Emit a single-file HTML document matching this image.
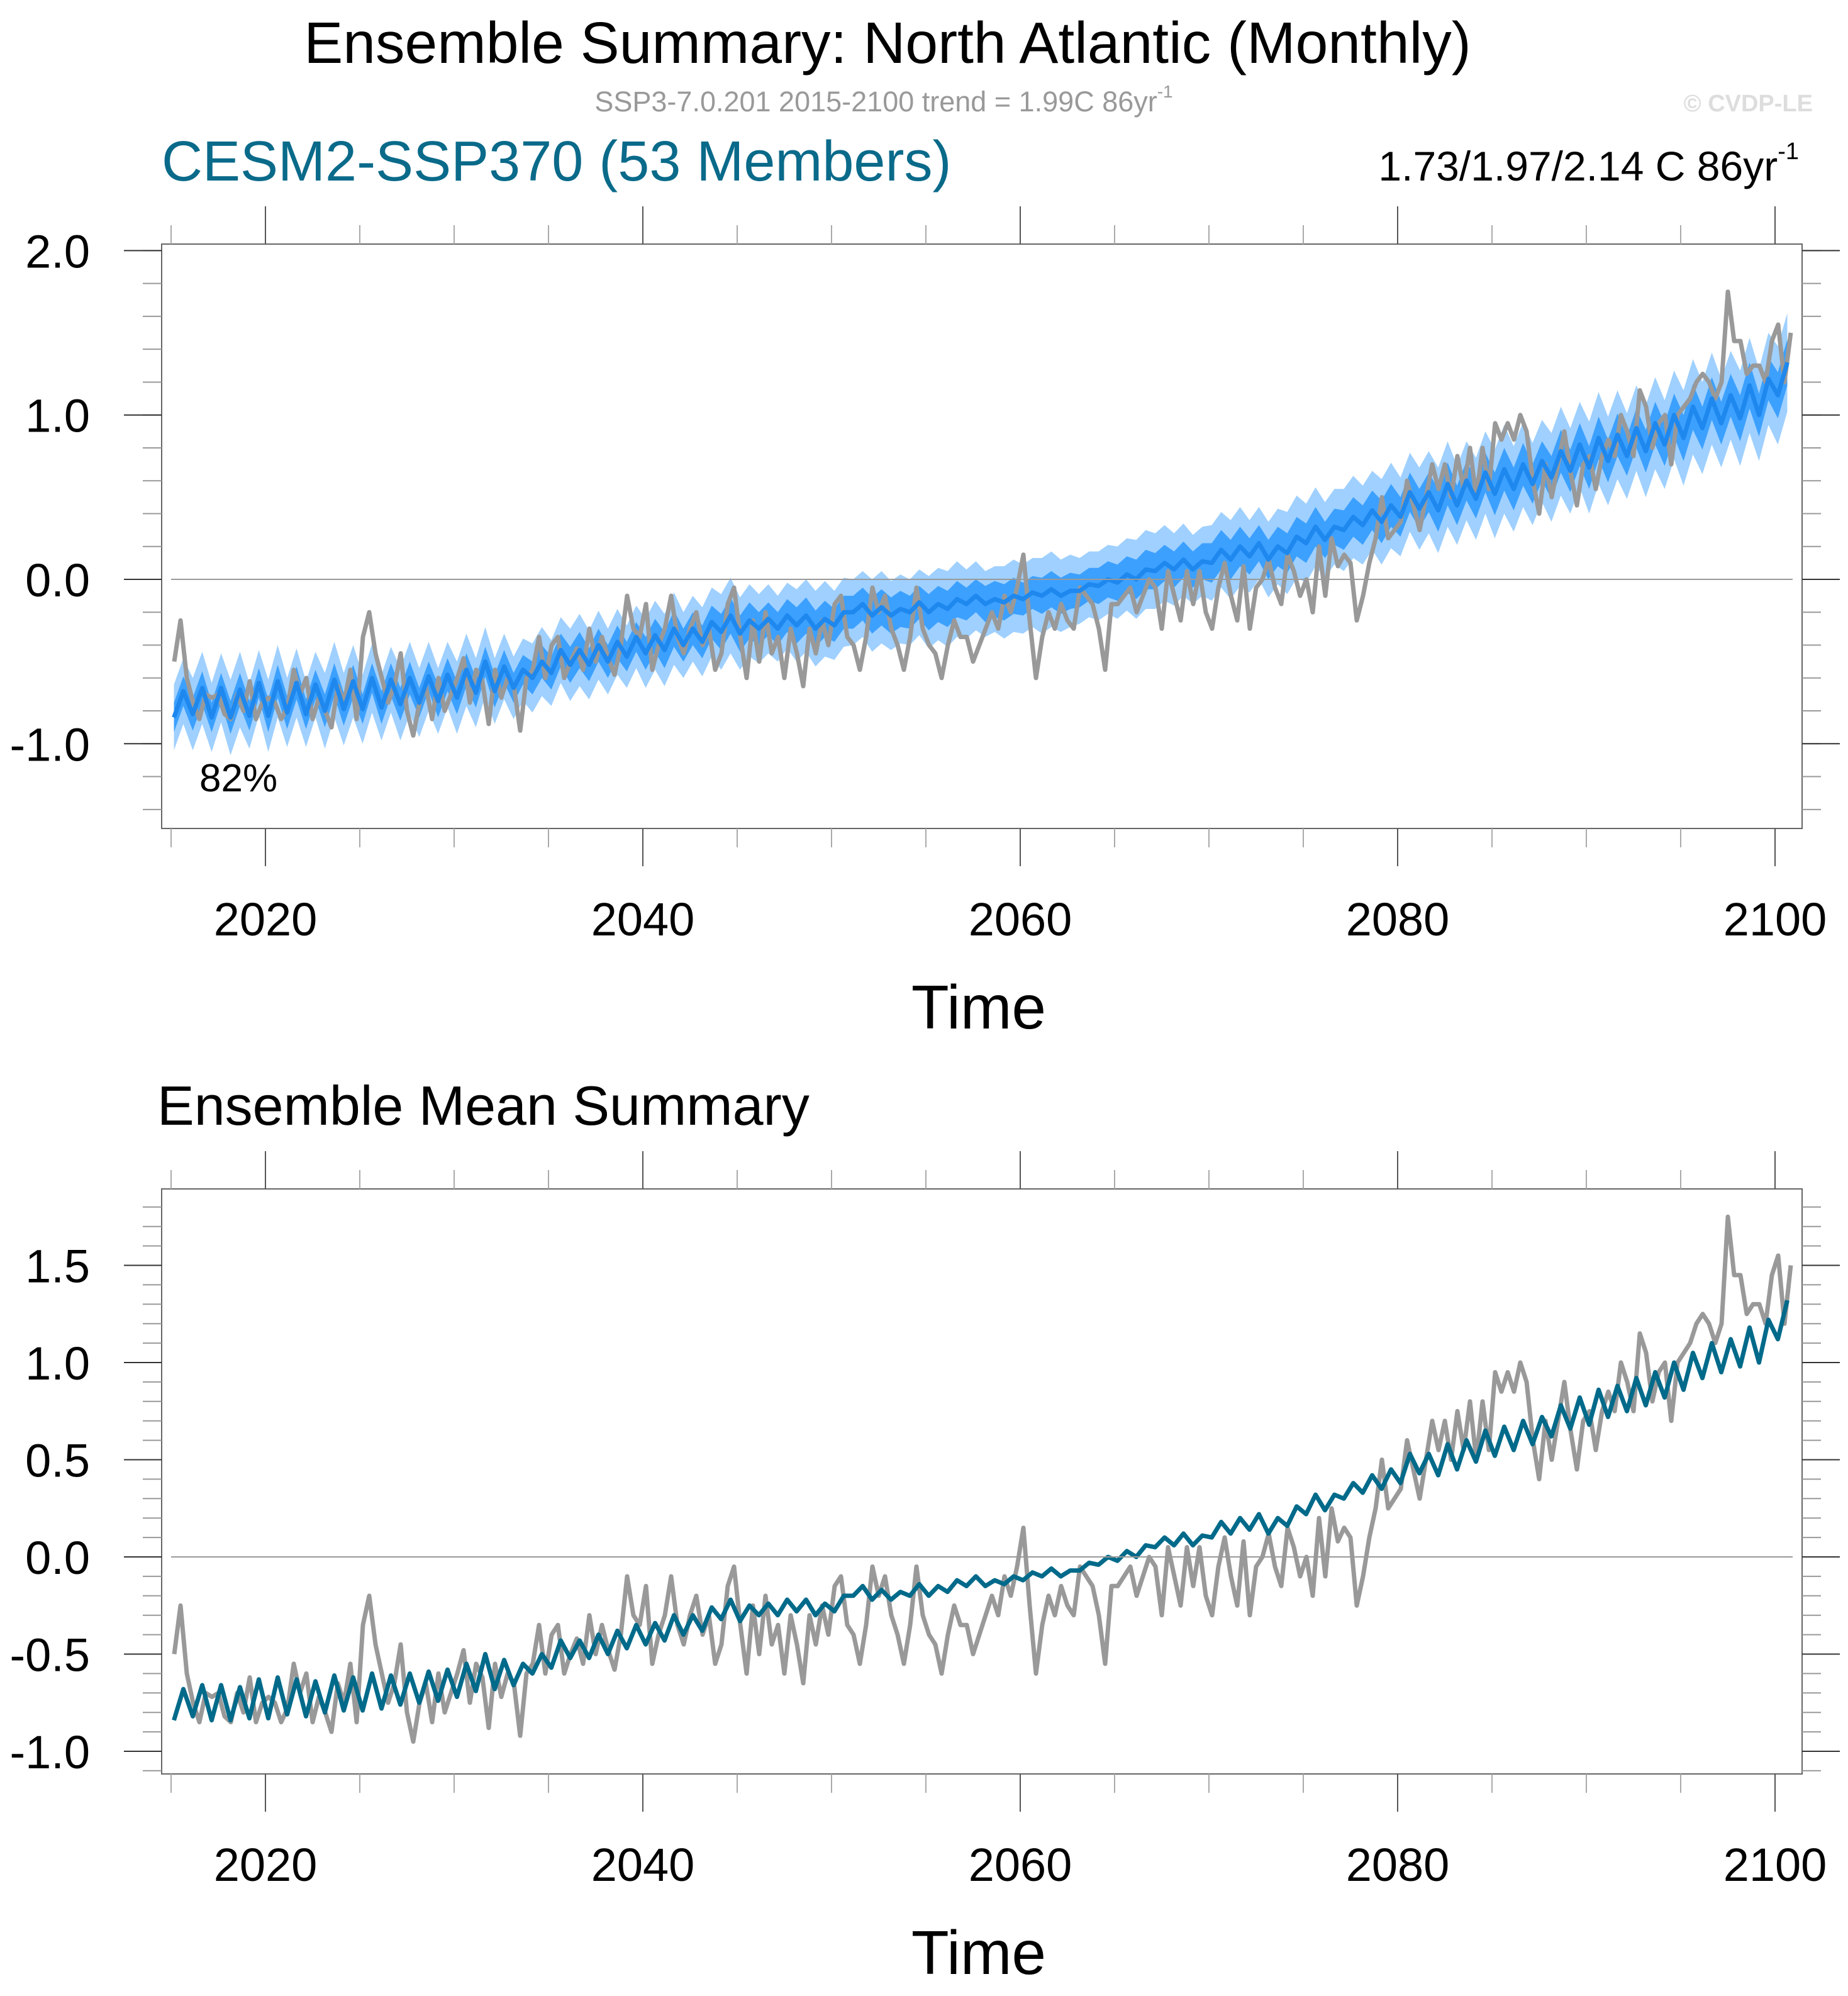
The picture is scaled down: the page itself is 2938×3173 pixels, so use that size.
<!DOCTYPE html>
<html><head><meta charset="utf-8"><style>
html,body{margin:0;padding:0;background:#fff;}
svg{display:block;font-family:"Liberation Sans",Arial,sans-serif;}
</style></head><body>
<svg id="chart" width="2938" height="3173" viewBox="0 0 2938 3173" xmlns="http://www.w3.org/2000/svg">
<rect width="2938" height="3173" fill="#fff"/>
<text x="1411" y="100" font-size="93" text-anchor="middle" fill="#000">Ensemble Summary: North Atlantic (Monthly)</text>
<text x="1405" y="177" font-size="45" text-anchor="middle" fill="#999">SSP3-7.0.201 2015-2100 trend = 1.99C 86yr<tspan font-size="28" dy="-22">-1</tspan></text>
<text x="2882" y="177" font-size="38" font-weight="bold" text-anchor="end" fill="#ddd">© CVDP-LE</text>
<text x="257" y="287" font-size="90" fill="#0a6a8a">CESM2-SSP370 (53 Members)</text>
<text x="2860" y="287" font-size="66" text-anchor="end" fill="#000">1.73/1.97/2.14 C 86yr<tspan font-size="38" dy="-34">-1</tspan></text>
<text x="250" y="1788" font-size="88" fill="#000">Ensemble Mean Summary</text>
<g id="top"></g>
<g id="bot"></g>
</svg>
<script>
const years = [];
for (let y = 2015; y <= 2100; y++) years.push(y);
// ensemble mean: [high, low] per year
const meanHigh = [-0.68,-0.66,-0.66,-0.67,-0.63,-0.62,-0.63,-0.64,-0.61,-0.62,-0.60,-0.61,-0.60,-0.59,-0.58,-0.55,-0.50,-0.53,-0.55,-0.50,-0.43,-0.43,-0.40,-0.38,-0.35,-0.34,-0.30,-0.30,-0.26,-0.22,-0.25,-0.24,-0.22,-0.22,-0.24,-0.20,-0.15,-0.17,-0.18,-0.14,-0.15,-0.12,-0.10,-0.12,-0.10,-0.08,-0.06,-0.07,-0.03,0.00,0.03,0.06,0.10,0.12,0.11,0.18,0.20,0.22,0.20,0.26,0.32,0.32,0.38,0.42,0.45,0.53,0.53,0.58,0.60,0.65,0.67,0.70,0.72,0.78,0.82,0.86,0.88,0.92,0.95,1.00,1.05,1.10,1.12,1.18,1.22,1.32];
const meanLow = [-0.84,-0.82,-0.84,-0.84,-0.83,-0.83,-0.81,-0.82,-0.80,-0.79,-0.79,-0.78,-0.76,-0.75,-0.74,-0.72,-0.69,-0.68,-0.66,-0.60,-0.57,-0.52,-0.52,-0.50,-0.47,-0.45,-0.43,-0.40,-0.38,-0.32,-0.33,-0.30,-0.30,-0.28,-0.30,-0.28,-0.20,-0.22,-0.22,-0.20,-0.20,-0.18,-0.15,-0.15,-0.14,-0.12,-0.10,-0.10,-0.07,-0.04,-0.02,0.00,0.05,0.06,0.06,0.10,0.12,0.14,0.12,0.16,0.22,0.24,0.30,0.33,0.35,0.38,0.43,0.42,0.45,0.49,0.52,0.55,0.58,0.62,0.66,0.68,0.72,0.75,0.78,0.82,0.86,0.92,0.95,0.98,1.00,1.12];
// single member (gray): 3 values per year
const memberVals = [
-0.5,-0.25,-0.6, -0.75,-0.85,-0.7, -0.72,-0.7,-0.82, -0.85,-0.7,-0.8, -0.62,-0.85,-0.75,
-0.72,-0.75,-0.85, -0.78,-0.55,-0.7, -0.6,-0.85,-0.72, -0.8,-0.9,-0.65, -0.75,-0.55,-0.85,
-0.35,-0.2,-0.45, -0.6,-0.75,-0.65, -0.45,-0.8,-0.95, -0.75,-0.65,-0.85, -0.6,-0.8,-0.7,
-0.6,-0.48,-0.75, -0.55,-0.62,-0.88, -0.55,-0.72,-0.6, -0.65,-0.92,-0.6, -0.55,-0.35,-0.6,
-0.4,-0.35,-0.6, -0.5,-0.42,-0.55, -0.3,-0.5,-0.35, -0.48,-0.58,-0.4, -0.1,-0.3,-0.35,
-0.15,-0.55,-0.4, -0.3,-0.1,-0.35, -0.45,-0.3,-0.2, -0.4,-0.3,-0.55, -0.45,-0.15,-0.05,
-0.35,-0.6,-0.25, -0.5,-0.2,-0.45, -0.35,-0.6,-0.3, -0.45,-0.65,-0.3, -0.45,-0.25,-0.4,
-0.15,-0.1,-0.35, -0.4,-0.55,-0.35, -0.05,-0.2,-0.1, -0.3,-0.4,-0.55, -0.35,-0.05,-0.3,
-0.4,-0.45,-0.6, -0.4,-0.25,-0.35, -0.35,-0.5,-0.4, -0.3,-0.2,-0.3, -0.1,-0.2,-0.05,
0.15,-0.25,-0.6, -0.35,-0.2,-0.3, -0.15,-0.25,-0.3, -0.05,-0.1,-0.15, -0.3,-0.55,-0.15,
-0.15,-0.1,-0.05, -0.2,-0.1,0.0, -0.05,-0.3,0.05, -0.1,-0.25,0.05, -0.15,0.05,-0.2,
-0.3,-0.05,0.1, -0.1,-0.25,0.08, -0.3,-0.05,0.0, 0.12,-0.05,-0.15, 0.15,0.05,-0.1,
0.0,-0.2,0.2, -0.1,0.25,0.08, 0.15,0.1,-0.25, -0.1,0.1,0.25, 0.5,0.25,0.3,
0.35,0.6,0.45, 0.3,0.5,0.7, 0.55,0.7,0.5, 0.75,0.55,0.8, 0.5,0.8,0.55,
0.95,0.85,0.95, 0.85,1.0,0.9, 0.6,0.4,0.7, 0.5,0.7,0.9, 0.65,0.45,0.7,
0.75,0.55,0.75, 0.85,0.75,1.0, 0.9,0.75,1.15, 1.05,0.8,0.95, 1.0,0.7,1.0,
1.05,1.1,1.2, 1.25,1.2,1.1, 1.2,1.75,1.45, 1.45,1.25,1.3, 1.3,1.2,1.45,
1.55,1.2,1.5];
// ensemble spread half-widths per year
const lightSpread = [0.20,0.22,0.21,0.23,0.20,0.22,0.21,0.20,0.23,0.22,0.21,0.20,0.22,0.21,0.20,0.22,0.21,0.20,0.19,0.21,0.20,0.22,0.21,0.20,0.19,0.21,0.22,0.20,0.21,0.23,0.22,0.21,0.20,0.22,0.23,0.21,0.20,0.22,0.21,0.20,0.22,0.23,0.21,0.20,0.22,0.21,0.23,0.22,0.20,0.21,0.22,0.24,0.23,0.22,0.21,0.23,0.24,0.22,0.23,0.25,0.24,0.23,0.25,0.24,0.26,0.24,0.25,0.26,0.24,0.25,0.27,0.26,0.25,0.27,0.26,0.28,0.27,0.26,0.28,0.27,0.29,0.28,0.27,0.29,0.28,0.30];
const darkSpread = [0.09,0.10,0.09,0.10,0.09,0.10,0.10,0.09,0.10,0.10,0.09,0.10,0.10,0.09,0.10,0.10,0.09,0.10,0.09,0.10,0.10,0.11,0.10,0.10,0.09,0.10,0.11,0.10,0.10,0.11,0.11,0.10,0.10,0.11,0.11,0.10,0.10,0.11,0.11,0.10,0.11,0.11,0.10,0.11,0.11,0.10,0.11,0.11,0.10,0.11,0.11,0.12,0.11,0.11,0.11,0.12,0.12,0.11,0.12,0.12,0.12,0.11,0.12,0.12,0.13,0.12,0.12,0.13,0.12,0.12,0.13,0.13,0.12,0.13,0.13,0.13,0.13,0.12,0.13,0.13,0.14,0.13,0.13,0.14,0.13,0.14];
const xTickLabels = ["2020","2040","2060","2080","2100"];
const topYLabels = ["2.0","1.0","0.0","-1.0"];
const botYLabels = ["1.5","1.0","0.5","0.0","-0.5","-1.0"];

const NS = "http://www.w3.org/2000/svg";
function mk(parent, tag, attrs) { const e = document.createElementNS(NS, tag); for (const k in attrs) e.setAttribute(k, attrs[k]); parent.appendChild(e); return e; }
const X0 = 257, X1 = 2865;
function xScale(t) { return 272 + (t - 2015) * 30; }

function meanPoints() { const p = []; years.forEach((y, i) => { p.push([y + 0.15, meanLow[i], i]); p.push([y + 0.65, meanHigh[i], i]); }); return p; }
function memberPoints() { const p = []; memberVals.forEach((v, k) => { p.push([2015 + Math.floor(k / 3) + (k % 3 + 0.5) / 3, v]); }); return p; }

function drawAxes(g, top, bottom, yScale, yMin, yMax, minorStep, majorVals, majorLabels, name) {
  const fr = mk(g, 'rect', {x: X0, y: top, width: X1 - X0, height: bottom - top, fill: 'none', stroke: '#666', 'stroke-width': 2});
  
  
  const nMin = Math.round((yMax - yMin) / minorStep);
  for (let k = 0; k <= nMin; k++) {
    const v = yMin + k * minorStep; const y = yScale(v);
    if (y < top - 1 || y > bottom + 1) continue;
    mk(g, 'line', {x1: X0 - 30, x2: X0, y1: y, y2: y, stroke: '#999', 'stroke-width': 2});
    mk(g, 'line', {x1: X1, x2: X1 + 30, y1: y, y2: y, stroke: '#999', 'stroke-width': 2});
  }
  majorVals.forEach((v, i) => {
    const y = yScale(v);
    mk(g, 'line', {x1: X0 - 60, x2: X0, y1: y, y2: y, stroke: '#333', 'stroke-width': 2});
    mk(g, 'line', {x1: X1, x2: X1 + 60, y1: y, y2: y, stroke: '#333', 'stroke-width': 2});
    const t = mk(g, 'text', {x: 143, y: y + 27, 'font-size': 74, 'text-anchor': 'end', fill: '#000'});
    t.textContent = majorLabels[i];
    
    
  });
  for (let yr = 2015; yr <= 2100; yr += 5) {
    const x = xScale(yr); const major = (yr % 20 === 0);
    const L = major ? 60 : 30; const c = major ? '#555' : '#aaa';
    mk(g, 'line', {x1: x, x2: x, y1: top - L, y2: top, stroke: c, 'stroke-width': 2});
    mk(g, 'line', {x1: x, x2: x, y1: bottom, y2: bottom + L, stroke: c, 'stroke-width': 2});
  }
  xTickLabels.forEach(lbl => {
    const t = mk(g, 'text', {x: xScale(+lbl), y: bottom + 170, 'font-size': 74, 'text-anchor': 'middle', fill: '#000'});
    t.textContent = lbl;
    
    
  });
  const tt = mk(g, 'text', {x: 1556, y: bottom + 318, 'font-size': 98, 'text-anchor': 'middle', fill: '#000'});
  tt.textContent = 'Time';
  
  
  const z = mk(g, 'line', {x1: 272, x2: 2850, y1: yScale(0), y2: yScale(0), stroke: '#999', 'stroke-width': 2});
  
  
}
function pathOf(pts, yScale) { return pts.map((p, i) => (i ? 'L' : 'M') + xScale(p[0]).toFixed(1) + ',' + yScale(p[1]).toFixed(1)).join(''); }

(function () {
  const g = document.getElementById('top');
  const yS = v => 921 - v * 261.3;
  const mp = meanPoints();
  const bandPath = (spread) => {
    const up = mp.map(p => [p[0], p[1] + spread[p[2]]]);
    const lo = mp.map(p => [p[0], p[1] - spread[p[2]]]).reverse();
    return pathOf(up, yS) + pathOf(lo, yS).replace('M', 'L') + 'Z';
  };
  const lb = mk(g, 'path', {d: bandPath(lightSpread), fill: '#9fd0ff', stroke: 'none'});
  
  
  const db = mk(g, 'path', {d: bandPath(darkSpread), fill: '#3ca0ff', stroke: 'none'});
  
  
  const gl = mk(g, 'path', {d: pathOf(memberPoints(), yS), fill: 'none', stroke: '#999', 'stroke-width': 7, 'stroke-linejoin': 'round'});
  
  
  const ml = mk(g, 'path', {d: pathOf(mp, yS), fill: 'none', stroke: '#1e88ee', 'stroke-width': 7, 'stroke-linejoin': 'round'});
  
  
  drawAxes(g, 388, 1317, yS, -1.4, 2.0, 0.2, [2, 1, 0, -1], topYLabels, 'top');
  const pc = mk(g, 'text', {x: 317, y: 1258, 'font-size': 62, fill: '#000'});
  pc.textContent = '82%';
  
  
})();

(function () {
  const g = document.getElementById('bot');
  const yS = v => 2475 - v * 309;
  const gl = mk(g, 'path', {d: pathOf(memberPoints(), yS), fill: 'none', stroke: '#999', 'stroke-width': 7, 'stroke-linejoin': 'round'});
  
  
  const ml = mk(g, 'path', {d: pathOf(meanPoints(), yS), fill: 'none', stroke: '#006a8a', 'stroke-width': 7, 'stroke-linejoin': 'round'});
  
  
  drawAxes(g, 1890, 2820, yS, -1.1, 1.8, 0.1, [1.5, 1, 0.5, 0, -0.5, -1], botYLabels, 'bottom');
})();
</script>
</body></html>
